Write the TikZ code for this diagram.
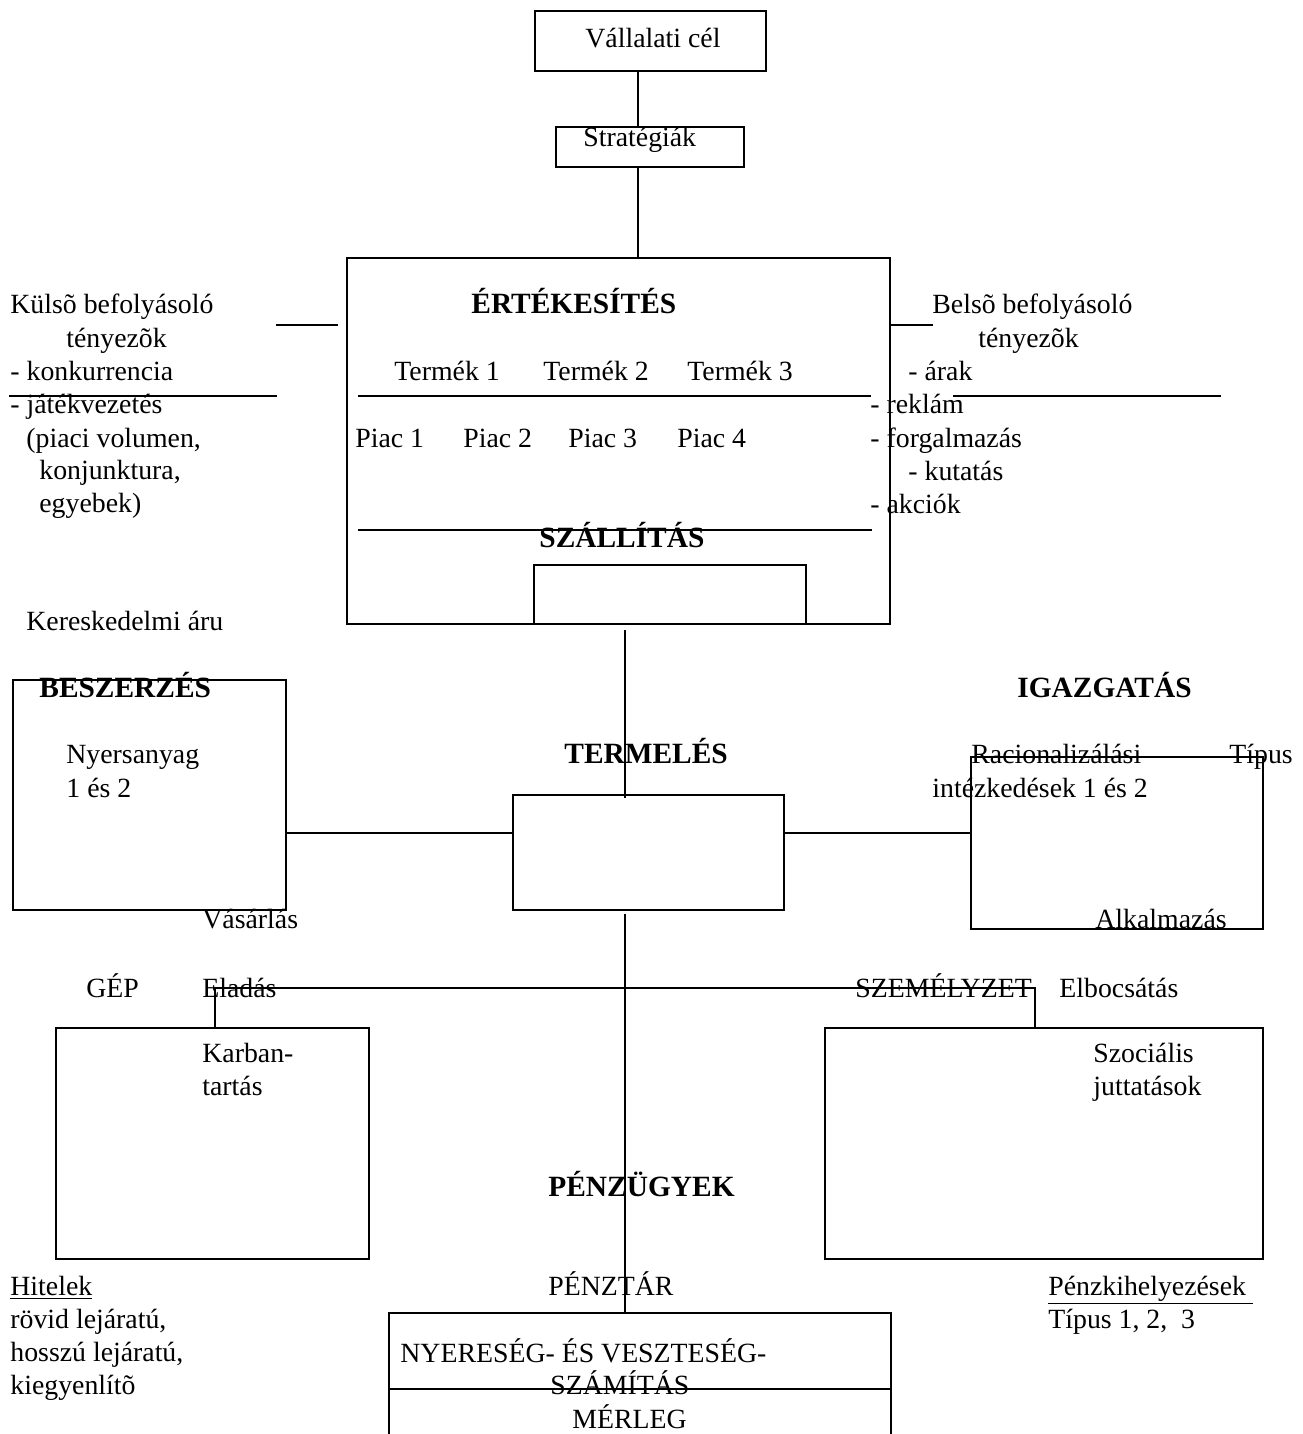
\documentclass[tikz,border=0pt]{standalone}
\usepackage{fontspec}
\setmainfont{Liberation Serif}
\begin{document}
\begin{tikzpicture}[x=0.5pt,y=-0.5pt,
  box/.style={draw, line width=1pt, inner sep=0pt, anchor=north west},
  conn/.style={line width=0.9pt},
  txt/.style={inner sep=0pt, anchor=base west, font=\fontsize{13.9}{16}\selectfont},
  btxt/.style={inner sep=0pt, anchor=base west, font=\fontsize{14.7}{17}\selectfont\bfseries}]
\useasboundingbox (0,0) rectangle (1302,1434);
\clip (0,0) rectangle (1302,1434);
% boxes
\node[box, minimum width=115.5pt, minimum height=30pt] (cel) at (534,10) {};
\node[box, minimum width=94pt, minimum height=20pt] (strat) at (555,126) {};
\node[box, minimum width=271.5pt, minimum height=183pt] (ert) at (346,257) {};
\node[box, minimum width=136pt, minimum height=29.5pt] (szall) at (533,564) {};
\node[box, minimum width=136.5pt, minimum height=115pt] (besz) at (12,679) {};
\node[box, minimum width=135.5pt, minimum height=57.5pt] (term) at (512,794) {};
\node[box, minimum width=146pt, minimum height=86pt] (igaz) at (970,756) {};
\node[box, minimum width=156.5pt, minimum height=115.5pt] (gep) at (55,1027) {};
\node[box, minimum width=219pt, minimum height=115.5pt] (szem) at (824,1027) {};
\node[box, minimum width=251pt, minimum height=75pt] (penz) at (388,1312) {};
% helper coordinates
\coordinate (ax1) at (638,0);
\coordinate (ax2) at (625,0);
\coordinate (h1) at (0,833);
\coordinate (h2) at (0,1389);
\coordinate (gepcon) at (215,988);
\coordinate (szemcon) at (1035,988);
\coordinate (kl1) at (276,325); \coordinate (kl2) at (338,325);
\coordinate (bl1) at (891,325); \coordinate (bl2) at (933,325);
\coordinate (la) at (9,396); \coordinate (lb) at (277,396);
\coordinate (ma) at (358,396); \coordinate (mb) at (871,396);
\coordinate (ra) at (953,396); \coordinate (rb) at (1221,396);
\coordinate (sa) at (358,530); \coordinate (sb) at (872,530);
% connectors
\draw[conn] (cel.south -| ax1) -- (strat.north -| ax1);
\draw[conn] (strat.south -| ax1) -- (ert.north -| ax1);
\draw[conn] ([yshift=-2.5pt]ert.south -| ax2) -- ([yshift=-2pt]term.north -| ax2);
\draw[conn] ([yshift=-1.5pt]term.south -| ax2) -- (penz.north -| ax2);
\draw[conn] (besz.east |- h1) -- (term.west |- h1);
\draw[conn] (term.east |- h1) -- (igaz.west |- h1);
\draw[conn] (gep.north -| gepcon) -- (gepcon) -- (szemcon) -- (szem.north -| szemcon);
\draw[conn] (kl1) -- (kl2);
\draw[conn] (bl1) -- (bl2);
\draw[conn] (la) -- (lb);
\draw[conn] (ma) -- (mb);
\draw[conn] (ra) -- (rb);
\draw[conn] (sa) -- (sb);
\draw[conn] (penz.west |- h2) -- (penz.east |- h2);
% texts
\node[txt] (t1) at (585,48) {Vállalati cél};
\node[txt] (t2) at (583,147) {Stratégiák};
\node[btxt] (t3) at (471,313) {ÉRTÉKESÍTÉS};
\node[txt] (t4) at (394,380) {Termék 1};
\node[txt] (t5) at (543,380) {Termék 2};
\node[txt] (t6) at (687,380) {Termék 3};
\node[txt] (t7) at (355,447) {Piac 1};
\node[txt] (t8) at (463,447) {Piac 2};
\node[txt] (t9) at (568,447) {Piac 3};
\node[txt] (t10) at (677,447) {Piac 4};
\node[btxt] (t11) at (539,547) {SZÁLLÍTÁS};
\node[txt] (k1) at (10,313) {Külsõ befolyásoló};
\node[txt] (k2) at (66,347) {tényezõk};
\node[txt] (k3) at (10,380) {- konkurrencia};
\node[txt] (k4) at (10,413) {- játékvezetés};
\node[txt] (k5) at (26,447) {(piaci volumen,};
\node[txt] (k6) at (39,479) {konjunktura,};
\node[txt] (k7) at (39,512) {egyebek)};
\node[txt] (b1) at (932,313) {Belsõ befolyásoló};
\node[txt] (b2) at (978,347) {tényezõk};
\node[txt] (b3) at (908,380) {- árak};
\node[txt] (b4) at (870,413) {- reklám};
\node[txt] (b5) at (870,447) {- forgalmazás};
\node[txt] (b6) at (908,480) {- kutatás};
\node[txt] (b7) at (870,513) {- akciók};
\node[txt] (ka) at (26,630) {Kereskedelmi áru};
\node[btxt] (bz) at (39,697) {BESZERZÉS};
\node[txt] (ny1) at (66,763) {Nyersanyag};
\node[txt] (ny2) at (66,797) {1 és 2};
\node[btxt] (tm) at (564,763) {TERMELÉS};
\node[btxt] (ig) at (1017,697) {IGAZGATÁS};
\node[txt] (r1) at (971,763) {Racionalizálási};
\node[txt] (r2) at (1229,763) {Típus};
\node[txt] (r3) at (932,797) {intézkedések 1 és 2};
\node[txt] (al) at (1095,928) {Alkalmazás};
\node[txt] (va) at (202,928) {Vásárlás};
\node[txt] (gp) at (86,997) {GÉP};
\node[txt] (el) at (202,997) {Eladás};
\node[txt] (sz) at (855,997) {SZEMÉLYZET};
\node[txt] (eb) at (1059,997) {Elbocsátás};
\node[txt] (kb1) at (202,1062) {Karban-};
\node[txt] (kb2) at (202,1095) {tartás};
\node[txt] (so1) at (1093,1062) {Szociális};
\node[txt] (so2) at (1093,1095) {juttatások};
\node[btxt] (pu) at (548,1196) {PÉNZÜGYEK};
\node[txt] (hi1) at (10,1295) {\underline{Hitelek}};
\node[txt] (hi2) at (10,1328) {rövid lejáratú,};
\node[txt] (hi3) at (10,1361) {hosszú lejáratú,};
\node[txt] (hi4) at (10,1394) {kiegyenlítõ};
\node[txt] (pt) at (548,1295) {PÉNZTÁR};
\node[txt] (pk1) at (1048,1295) {\underline{Pénzkihelyezések\ }};
\node[txt] (pk2) at (1048,1328) {Típus 1, 2,\ \ 3};
\node[txt] (ny) at (400,1362) {NYERESÉG- ÉS VESZTESÉG-};
\node[txt] (sza) at (550,1394) {SZÁMÍTÁS};
\node[txt] (me) at (572,1428) {MÉRLEG};
\end{tikzpicture}
\end{document}
